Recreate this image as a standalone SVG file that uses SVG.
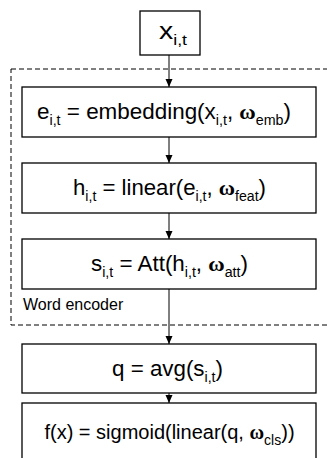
<svg xmlns="http://www.w3.org/2000/svg" width="327" height="458" viewBox="0 0 327 458">
<style>
.box{fill:#fff;stroke:#000;stroke-width:1.3}
.t{font-family:"Liberation Sans",Arial,sans-serif;font-size:22px;fill:#000}
.s{font-size:14px}
.w{font-family:"Liberation Serif","Times New Roman",serif;font-weight:bold}
.lbl{font-family:"Liberation Sans",Arial,sans-serif;font-size:16px;fill:#000}
.c{stroke:#000;stroke-width:1;fill:none}
</style>
<defs>
<marker id="ah" markerWidth="8" markerHeight="8" refX="8" refY="3.5" orient="auto" markerUnits="userSpaceOnUse">
<path d="M0,0 L8,3.5 L0,7 z" fill="#000"/>
</marker>
</defs>
<g id="word-encoder">
<rect x="11" y="69" width="330" height="256" fill="none" stroke="#000" stroke-width="1" stroke-dasharray="5,3"/>
<text class="lbl" x="23" y="310">Word encoder</text>
</g>
<g id="connectors">
<line class="c" x1="169" y1="55" x2="169" y2="87" marker-end="url(#ah)"/>
<line class="c" x1="169" y1="137" x2="169" y2="163" marker-end="url(#ah)"/>
<line class="c" x1="169" y1="213" x2="169" y2="239" marker-end="url(#ah)"/>
<line class="c" x1="169" y1="289" x2="169" y2="344" marker-end="url(#ah)"/>
<line class="c" x1="169" y1="393" x2="169" y2="403" marker-end="url(#ah)"/>
</g>
<g id="input">
<rect class="box" x="140" y="11" width="60" height="44"/>
<text class="t" x="159" y="39" style="font-size:24px" textLength="28" lengthAdjust="spacingAndGlyphs">x<tspan style="font-size:15px" dy="6">i,t</tspan></text>
</g>
<g id="embedding">
<rect class="box" x="22" y="87" width="294" height="50"/>
<text class="t" x="37" y="119" textLength="254" lengthAdjust="spacingAndGlyphs">e<tspan class="s" dy="6">i,t</tspan><tspan dy="-6"> = embedding(x</tspan><tspan class="s" dy="6">i,t</tspan><tspan dy="-6">,  </tspan><tspan class="w">ω</tspan><tspan class="s" dy="6">emb</tspan><tspan dy="-6">)</tspan></text>
</g>
<g id="linear">
<rect class="box" x="22" y="163" width="294" height="50"/>
<text class="t" x="73" y="195" textLength="193" lengthAdjust="spacingAndGlyphs">h<tspan class="s" dy="6">i,t</tspan><tspan dy="-6"> = linear(e</tspan><tspan class="s" dy="6">i,t</tspan><tspan dy="-6">, </tspan><tspan class="w">ω</tspan><tspan class="s" dy="6">feat</tspan><tspan dy="-6">)</tspan></text>
</g>
<g id="attention">
<rect class="box" x="22" y="239" width="294" height="50"/>
<text class="t" x="91" y="271" textLength="157" lengthAdjust="spacingAndGlyphs">s<tspan class="s" dy="6">i,t</tspan><tspan dy="-6"> = Att(h</tspan><tspan class="s" dy="6">i,t</tspan><tspan dy="-6">, </tspan><tspan class="w">ω</tspan><tspan class="s" dy="6">att</tspan><tspan dy="-6">)</tspan></text>
</g>
<g id="average">
<rect class="box" x="22" y="344" width="294" height="49"/>
<text class="t" x="112" y="376" textLength="111" lengthAdjust="spacingAndGlyphs">q = avg(s<tspan class="s" dy="6">i,t</tspan><tspan dy="-6">)</tspan></text>
</g>
<g id="classifier">
<rect class="box" x="22" y="403" width="294" height="70"/>
<text class="t" x="169.5" y="439" style="font-size:20px" text-anchor="middle">f(x) = sigmoid(linear(q, <tspan class="w">ω</tspan><tspan class="s" dy="6">cls</tspan><tspan dy="-6">))</tspan></text>
</g>
</svg>
